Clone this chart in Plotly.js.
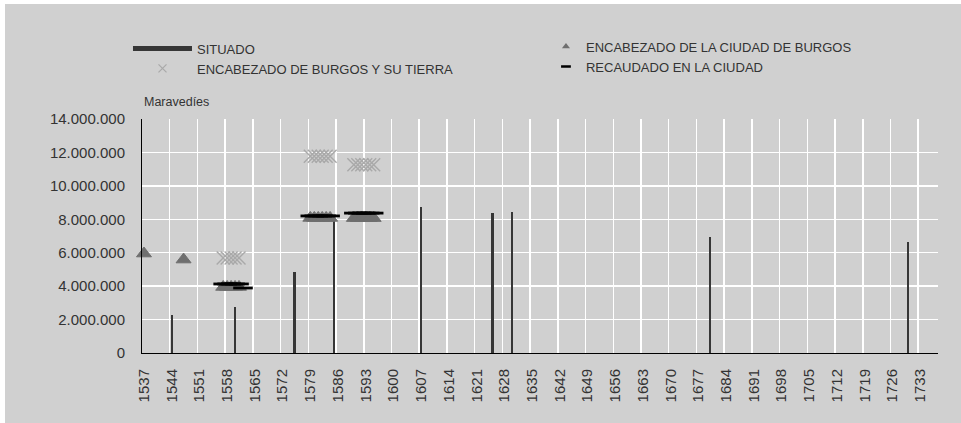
<!DOCTYPE html>
<html><head><meta charset="utf-8">
<script src="https://cdn.plot.ly/plotly-3.0.1.min.js"></script>
<style>
html,body{margin:0;padding:0;background:#fff;}
#chart{position:absolute;left:5px;top:4px;width:956px;height:419px;}
</style></head><body>
<div id="chart"></div>
<script>
// Tick labels (every 7 years)
const tickYears = [1537,1544,1551,1558,1565,1572,1579,1586,1593,1600,1607,1614,1621,1628,1635,1642,1649,1656,1663,1670,1677,1684,1691,1698,1705,1712,1719,1726,1733];

// SITUADO (bars)
const situadoYears  = [1544, 1560, 1575, 1585, 1607, 1625, 1630, 1680, 1730];
const situadoValues = [2250000, 2770000, 4830000, 8000000, 8740000, 8380000, 8440000, 6950000, 6650000];

// ENCABEZADO DE LA CIUDAD DE BURGOS (triangles)
const ciudadYears  = [1537, 1547, 1557, 1558, 1559, 1560, 1561, 1579, 1580, 1581, 1582, 1583, 1584, 1590, 1591, 1592, 1593, 1594, 1595];
const ciudadValues = [5950000, 5590000, 3950000, 3950000, 3950000, 3950000, 3950000, 8080000, 8080000, 8080000, 8080000, 8080000, 8080000, 8070000, 8070000, 8070000, 8070000, 8070000, 8070000];

// ENCABEZADO DE BURGOS Y SU TIERRA (x markers)
const tierraYears  = [1557, 1558, 1559, 1560, 1561, 1579, 1580, 1581, 1582, 1583, 1584, 1590, 1591, 1592, 1593, 1594, 1595];
const tierraValues = [5690000, 5690000, 5690000, 5690000, 5690000, 11770000, 11770000, 11770000, 11770000, 11770000, 11770000, 11260000, 11260000, 11260000, 11260000, 11260000, 11260000];

// RECAUDADO EN LA CIUDAD (dash markers)
const recaudadoYears  = [1557, 1558, 1559, 1560, 1561, 1562, 1579, 1580, 1581, 1582, 1583, 1584, 1590, 1591, 1592, 1593, 1594, 1595];
const recaudadoValues = [4130000, 4130000, 4130000, 4130000, 4130000, 3890000, 8200000, 8200000, 8200000, 8200000, 8200000, 8200000, 8370000, 8370000, 8370000, 8370000, 8370000, 8370000];

const names = {
  situado: 'SITUADO',
  tierra: 'ENCABEZADO DE BURGOS Y SU TIERRA',
  ciudad: 'ENCABEZADO DE LA CIUDAD DE BURGOS',
  recaudado: 'RECAUDADO EN LA CIUDAD'
};

const cBar = '#363636', cTri = '#6f6f6f', cX = '#a9a9a9', cDash = '#000000';

const traces = [
  {type:'bar', x:situadoYears, y:situadoValues, name:names.situado, width:0.6,
   marker:{color:cBar, line:{width:0}}, showlegend:false, hoverinfo:'x+y'},
  {type:'scatter', mode:'markers', x:ciudadYears, y:ciudadValues, name:names.ciudad, cliponaxis:false,
   marker:{symbol:'triangle-up', size:13, color:cTri, line:{width:1, color:cTri}}, showlegend:false},
  {type:'scatter', mode:'markers', x:tierraYears, y:tierraValues, name:names.tierra, cliponaxis:false,
   marker:{symbol:'x-thin-open', size:13, color:cX, line:{width:1.4, color:cX}}, showlegend:false},
  {type:'scatter', mode:'markers', x:recaudadoYears, y:recaudadoValues, name:names.recaudado, cliponaxis:false,
   marker:{symbol:'line-ew-open', size:14, color:cDash, line:{width:2.8, color:cDash}}, showlegend:false},
  // legend entries
  {type:'scatter', mode:'lines', x:[null], y:[null], name:names.situado, legend:'legend',
   line:{color:cBar, width:5}, hoverinfo:'skip'},
  {type:'scatter', mode:'markers', x:[null], y:[null], name:names.tierra, legend:'legend',
   marker:{symbol:'x-thin-open', size:8, color:cX, line:{width:1.2, color:cX}}, hoverinfo:'skip'},
  {type:'scatter', mode:'markers', x:[null], y:[null], name:names.ciudad, legend:'legend2',
   marker:{symbol:'triangle-up', size:7, color:cTri, line:{width:0}}, hoverinfo:'skip'},
  {type:'scatter', mode:'markers', x:[null], y:[null], name:names.recaudado, legend:'legend2',
   marker:{symbol:'line-ew-open', size:7, color:cDash, line:{width:2.5, color:cDash}}, hoverinfo:'skip'}
];

const font = '"Liberation Sans", Arial, Helvetica, sans-serif';

const layout = {
  width:956, height:419,
  paper_bgcolor:'#d0d0d0', plot_bgcolor:'#d0d0d0',
  margin:{l:137, r:23, t:115, b:70},
  font:{family:font, color:'#333333', size:13},
  separators:',.',
  showlegend:true,
  bargap:0,
  xaxis:{
    range:[1536.5, 1737.5], tickmode:'array', tickvals:tickYears, ticktext:tickYears.map(String),
    tickangle:-90, showgrid:false, zeroline:false, showline:true, linecolor:'#000', linewidth:1,
    ticks:'outside', ticklen:9, tickcolor:'rgba(0,0,0,0)', tickfont:{size:15, color:'#333'},
    minor:{tick0:1536.5, dtick:7, showgrid:true, gridcolor:'#ffffff', gridwidth:1.5, ticks:''},
    fixedrange:true
  },
  yaxis:{
    range:[0, 14000000], tick0:0, dtick:2000000, tickformat:',d',
    showgrid:true, gridcolor:'#ffffff', gridwidth:1.5, zeroline:false,
    showline:true, linecolor:'#000', linewidth:1,
    ticks:'', ticklabelstandoff:13, tickfont:{size:15, color:'#333'}, fixedrange:true
  },
  legend:{x:-0.0176, xanchor:'left', y:1.365, yanchor:'top', orientation:'v',
    bgcolor:'rgba(0,0,0,0)', borderwidth:0, itemwidth:59, font:{size:13, color:'#333'}},
  legend2:{x:0.5075, xanchor:'left', y:1.3735, yanchor:'top', orientation:'v',
    bgcolor:'rgba(0,0,0,0)', borderwidth:0, itemwidth:30, font:{size:13, color:'#333'}},
  annotations:[{xref:'paper', yref:'paper', x:0, y:1.074, xanchor:'left', yanchor:'middle',
    text:'Maravedíes', showarrow:false, font:{size:12.5, color:'#333'}}]
};

Plotly.newPlot('chart', traces, layout, {displayModeBar:false, staticPlot:true});
</script>
</body></html>
